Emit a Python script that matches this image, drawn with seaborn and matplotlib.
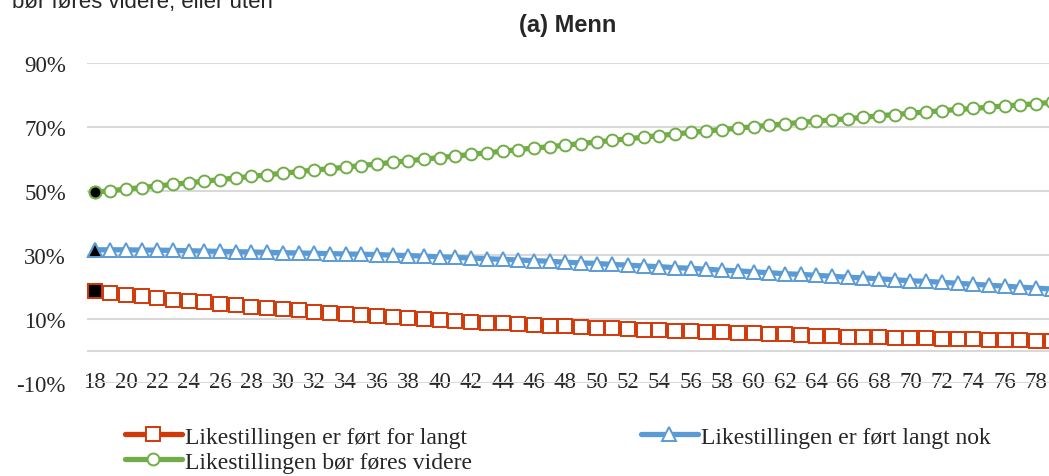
import numpy as np
import pandas as pd
import matplotlib
matplotlib.use("Agg")
import matplotlib.pyplot as plt
import seaborn as sns
from matplotlib.lines import Line2D

# ages on the category axis
ages = list(range(18, 80))

# share (%) per age
for_langt = [18.6, 18.0, 17.5, 17.0, 16.5, 16.0, 15.5, 15.1, 14.6, 14.2,
             13.8, 13.4, 13.0, 12.6, 12.2, 11.9, 11.5, 11.2, 10.8, 10.5,
             10.2, 9.9, 9.6, 9.3, 9.0, 8.8, 8.5, 8.3, 8.0, 7.8,
             7.6, 7.4, 7.2, 7.0, 6.8, 6.6, 6.4, 6.3, 6.1, 5.9,
             5.7, 5.6, 5.4, 5.2, 5.1, 4.9, 4.7, 4.6, 4.4, 4.3,
             4.2, 4.0, 3.9, 3.8, 3.7, 3.6, 3.5, 3.4, 3.3, 3.2,
             3.0, 2.9]
langt_nok = [31.6, 31.6, 31.6, 31.5, 31.5, 31.4, 31.3, 31.2, 31.1, 31.0,
             30.9, 30.8, 30.7, 30.6, 30.5, 30.4, 30.3, 30.2, 30.1, 29.9,
             29.8, 29.6, 29.4, 29.2, 29.0, 28.8, 28.6, 28.4, 28.2, 28.0,
             27.7, 27.5, 27.3, 27.0, 26.8, 26.5, 26.3, 26.0, 25.8, 25.5,
             25.2, 25.0, 24.7, 24.4, 24.1, 23.9, 23.6, 23.3, 23.0, 22.8,
             22.5, 22.2, 21.9, 21.7, 21.4, 21.1, 20.8, 20.5, 20.2, 19.9,
             19.6, 19.3]
videre = [49.6, 50.1, 50.6, 51.1, 51.6, 52.1, 52.6, 53.1, 53.6, 54.1,
          54.6, 55.1, 55.6, 56.1, 56.6, 57.0, 57.5, 58.0, 58.5, 59.0,
          59.5, 60.0, 60.5, 61.0, 61.5, 62.0, 62.5, 63.0, 63.5, 63.9,
          64.4, 64.9, 65.4, 65.9, 66.4, 66.9, 67.4, 67.9, 68.4, 68.8,
          69.3, 69.7, 70.2, 70.6, 71.1, 71.5, 71.9, 72.3, 72.7, 73.1,
          73.6, 74.0, 74.4, 74.8, 75.2, 75.6, 75.9, 76.3, 76.7, 77.0,
          77.4, 77.8]

labels = ["Likestillingen er ført for langt",
          "Likestillingen er ført langt nok",
          "Likestillingen bør føres videre"]
colors = ["#D0390A", "#5B9BD5", "#70AD47"]
markers = ["s", "^", "o"]
msizes = [9.5, 10.5, 8.5]

df = pd.DataFrame({"age": ages, labels[0]: for_langt,
                   labels[1]: langt_nok, labels[2]: videre})

sns.set_style("white")
serif = "Liberation Serif"
sans = "Liberation Sans"

fig = plt.figure(figsize=(10.49, 4.77), dpi=100)
ax = fig.add_axes([0.0827, 0.196, 1 - 0.0827, 0.6688])

for lab, col, mk, ms in zip(labels, colors, markers, msizes):
    sns.lineplot(data=df, x="age", y=lab, ax=ax, color=col, linewidth=3.8,
                 marker=mk, markersize=ms, markerfacecolor="white",
                 markeredgecolor=col, markeredgewidth=1.4, clip_on=False,
                 zorder=3)
    # first point drawn with a black fill
    ax.plot(df["age"].iloc[:1], df[lab].iloc[:1], marker=mk, markersize=ms,
            markerfacecolor="black", markeredgecolor=col, markeredgewidth=1.4,
            linestyle="none", zorder=4, clip_on=False)

if ax.get_legend():
    ax.get_legend().remove()
ax.set_xlabel("")
ax.set_ylabel("")
for s in ["top", "right", "left", "bottom"]:
    ax.spines[s].set_visible(False)
ax.spines["bottom"].set_position(("data", 0))

ax.set_xlim(17.5, 78.83)
ax.set_ylim(-10, 90)
yt = [-10, 10, 30, 50, 70, 90]
ax.set_yticks(yt)
ax.set_yticklabels([f"{v}%" for v in yt])
for v in yt + [0]:
    ax.axhline(v, color="#D9D9D9", linewidth=1.5, zorder=1)

ax.set_xticks(ages[::2])
ax.set_xticklabels([str(a) for a in ages[::2]])
ax.tick_params(axis="both", length=0, labelsize=16.5)
ax.tick_params(axis="y", pad=15)
ax.tick_params(axis="x", pad=15)
for t in ax.get_xticklabels() + ax.get_yticklabels():
    t.set_fontfamily(serif)

fig.text(0.5415, 0.947, "(a) Menn", ha="center", va="center",
         fontfamily=sans, fontweight="bold", fontsize=17)
fig.text(12 / 1049, 1 - 8 / 477, "bør føres videre, eller uten", ha="left",
         va="baseline", fontfamily=sans, fontsize=16)

handles = [Line2D([], [], color=c, linewidth=3.8, marker=m, markersize=ms,
                  markerfacecolor="white", markeredgecolor=c,
                  markeredgewidth=1.4)
           for c, m, ms in zip(colors, markers, msizes)]
order = [0, 2, 1]
fig.legend([handles[i] for i in order], [labels[i] for i in order],
           loc="upper left", bbox_to_anchor=(125 / 1049, 1 - 427 / 477),
           ncol=2, frameon=False, borderpad=0, borderaxespad=0,
           handlelength=2.4, handletextpad=0.15, columnspacing=7.15,
           labelspacing=0.15, prop={"family": serif, "size": 17})

fig.savefig("out.png", dpi=100)
